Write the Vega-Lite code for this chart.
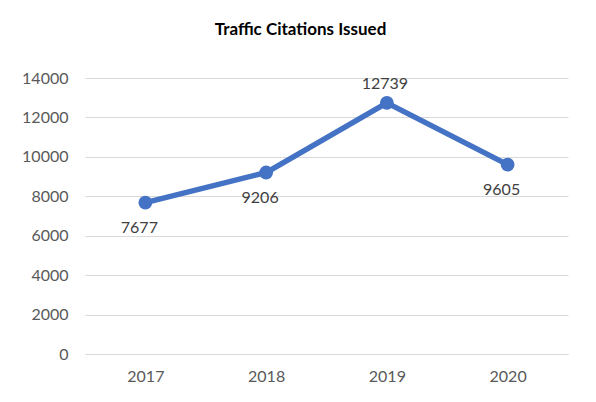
{
  "$schema": "https://vega.github.io/schema/vega-lite/v6.json",
  "autosize": {"type": "none"},
  "width": 483,
  "height": 276,
  "padding": {"left": 85, "top": 78, "right": 28, "bottom": 48},
  "background": "white",
  "config": {
    "view": {"stroke": null},
    "font": "Lato",
    "axis": {"labelFont": "Lato", "labelFontSize": 16, "labelColor": "#595959"}
  },
  "title": {
    "text": "Traffic Citations Issued",
    "font": "Lato",
    "fontSize": 17,
    "fontWeight": "bold",
    "color": "#000000",
    "anchor": "middle",
    "offset": 31,
    "dx": -26
  },
  "data": {
    "values": [
      {"year": "2017", "citations": 7677, "pos": "below"},
      {"year": "2018", "citations": 9206, "pos": "below"},
      {"year": "2019", "citations": 12739, "pos": "above"},
      {"year": "2020", "citations": 9605, "pos": "below"}
    ]
  },
  "encoding": {
    "x": {
      "field": "year",
      "type": "ordinal",
      "scale": {"type": "point", "padding": 0.5},
      "axis": {
        "title": null,
        "labelAngle": 0,
        "domain": true,
        "domainColor": "#d9d9d9",
        "ticks": false,
        "labelPadding": 14,
        "grid": false
      }
    },
    "y": {
      "field": "citations",
      "type": "quantitative",
      "scale": {"domain": [0, 14000], "nice": false},
      "axis": {
        "title": null,
        "values": [0, 2000, 4000, 6000, 8000, 10000, 12000, 14000],
        "format": "d",
        "domain": false,
        "ticks": false,
        "labelPadding": 17,
        "grid": true,
        "gridColor": "#d9d9d9",
        "gridWidth": 1
      }
    }
  },
  "layer": [
    {
      "mark": {"type": "line", "color": "#4472C4", "strokeWidth": 5.5, "strokeCap": "round", "strokeJoin": "round"}
    },
    {
      "mark": {"type": "point", "filled": true, "color": "#4472C4", "size": 190, "opacity": 1}
    },
    {
      "transform": [{"filter": "datum.pos === 'below'"}],
      "mark": {"type": "text", "fontSize": 16, "font": "Lato", "color": "#404040", "dy": 25, "dx": -6, "baseline": "middle"},
      "encoding": {"text": {"field": "citations", "type": "quantitative", "format": "d"}}
    },
    {
      "transform": [{"filter": "datum.pos === 'above'"}],
      "mark": {"type": "text", "fontSize": 16, "font": "Lato", "color": "#404040", "dy": -19, "dx": -2, "baseline": "middle"},
      "encoding": {"text": {"field": "citations", "type": "quantitative", "format": "d"}}
    }
  ]
}
